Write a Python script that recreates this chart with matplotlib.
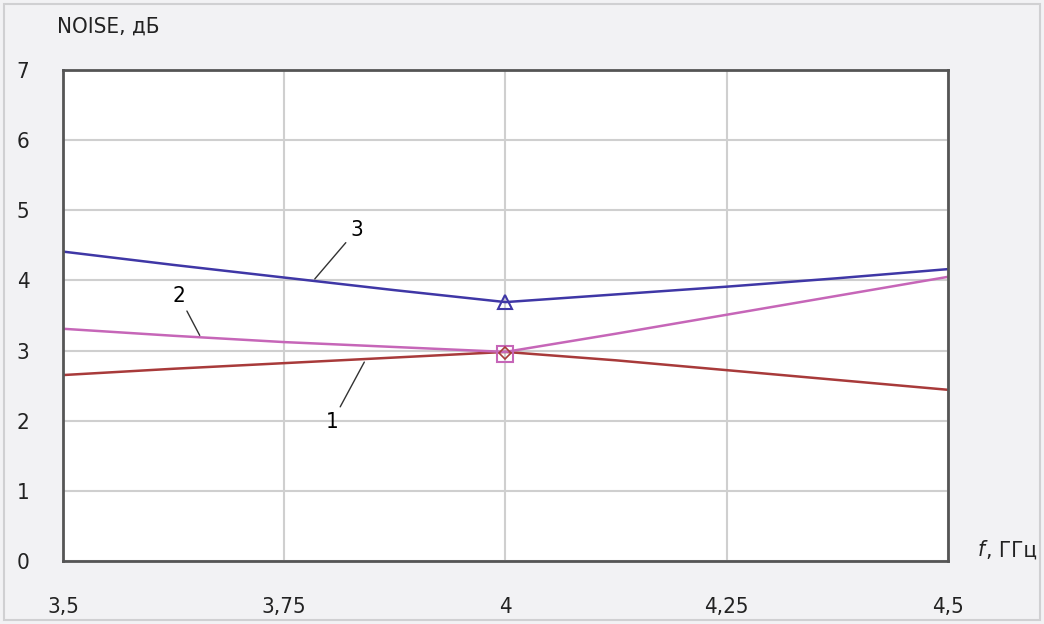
import numpy as np
import matplotlib.pyplot as plt
from matplotlib.patches import Rectangle

plt.rcParams['font.family'] = ['DejaVu Sans']
plt.rcParams['font.stretch'] = 'condensed'

# Данные
f = [3.5, 3.625, 3.75, 3.875, 4.0, 4.125, 4.25, 4.375, 4.5]
noise1 = [2.65, 2.74, 2.82, 2.90, 2.98, 2.86, 2.72, 2.58, 2.44]
noise2 = [3.31, 3.21, 3.12, 3.05, 2.98, 3.24, 3.51, 3.78, 4.05]
noise3 = [4.41, 4.22, 4.04, 3.86, 3.69, 3.80, 3.91, 4.03, 4.16]

xticks = [3.5, 3.75, 4.0, 4.25, 4.5]
xticklabels = ["3,5", "3,75", "4", "4,25", "4,5"]
yticks = [0, 1, 2, 3, 4, 5, 6, 7]

c1 = "#a83a3a"
c2 = "#c666b8"
c3 = "#3f37a6"
bg = "#f2f2f4"

fig = plt.figure(figsize=(10.44, 6.24), dpi=100, facecolor=bg)
fig.patches.append(Rectangle((0.004, 0.006), 0.992, 0.988, transform=fig.transFigure,
                             fill=False, edgecolor="#d0d0d2", linewidth=1.5))
ax = fig.add_axes([0.0603, 0.101, 0.8477, 0.787])
ax.set_facecolor("white")

ax.plot(f, noise1, color=c1, linewidth=1.8)
ax.plot(f, noise2, color=c2, linewidth=1.8)
ax.plot(f, noise3, color=c3, linewidth=1.8)

# маркеры в точке 4 ГГц
ax.plot(f[4], noise3[4], marker="^", markersize=10, markerfacecolor="none",
        markeredgecolor=c3, markeredgewidth=1.5)
ax.plot(f[4], noise2[4] - 0.03, marker="s", markersize=11, markerfacecolor="none",
        markeredgecolor=c2, markeredgewidth=1.5)
ax.plot(f[4], noise1[4] - 0.02, marker="D", markersize=6, markerfacecolor="none",
        markeredgecolor=c1, markeredgewidth=1.2)

ax.set_xlim(3.5, 4.5)
ax.set_ylim(0, 7)
ax.set_xticks(xticks)
ax.set_xticklabels(xticklabels)
ax.set_yticks(yticks)
ax.tick_params(axis="x", length=0, pad=26, labelsize=16, colors="#222222")
ax.tick_params(axis="y", length=0, pad=24, labelsize=16, colors="#222222")
ax.grid(True, color="#cfcfcf", linewidth=1.5)
ax.set_axisbelow(True)
for s in ax.spines.values():
    s.set_color("#555555")
    s.set_linewidth(2)

# подписи кривых
arrow = dict(arrowstyle="-", color="#333333", linewidth=1)
ax.annotate("3", xy=(3.7825, 3.99), xytext=(3.832, 4.72), fontsize=16,
            ha="center", va="center", arrowprops=arrow)
ax.annotate("2", xy=(3.656, 3.18), xytext=(3.631, 3.78), fontsize=16,
            ha="center", va="center", arrowprops=arrow)
ax.annotate("1", xy=(3.842, 2.87), xytext=(3.804, 1.98), fontsize=16,
            ha="center", va="center", arrowprops=arrow)

fig.text(0.055, 0.957, "NOISE, дБ", fontsize=16, ha="left", va="center", color="#222222")
fig.text(0.936, 0.118, "f", fontsize=16, style="italic", ha="left", va="center", color="#222222")
fig.text(0.944, 0.118, ", ГГц", fontsize=16, ha="left", va="center", color="#222222")

fig.savefig("out.png", dpi=100, facecolor=bg)
